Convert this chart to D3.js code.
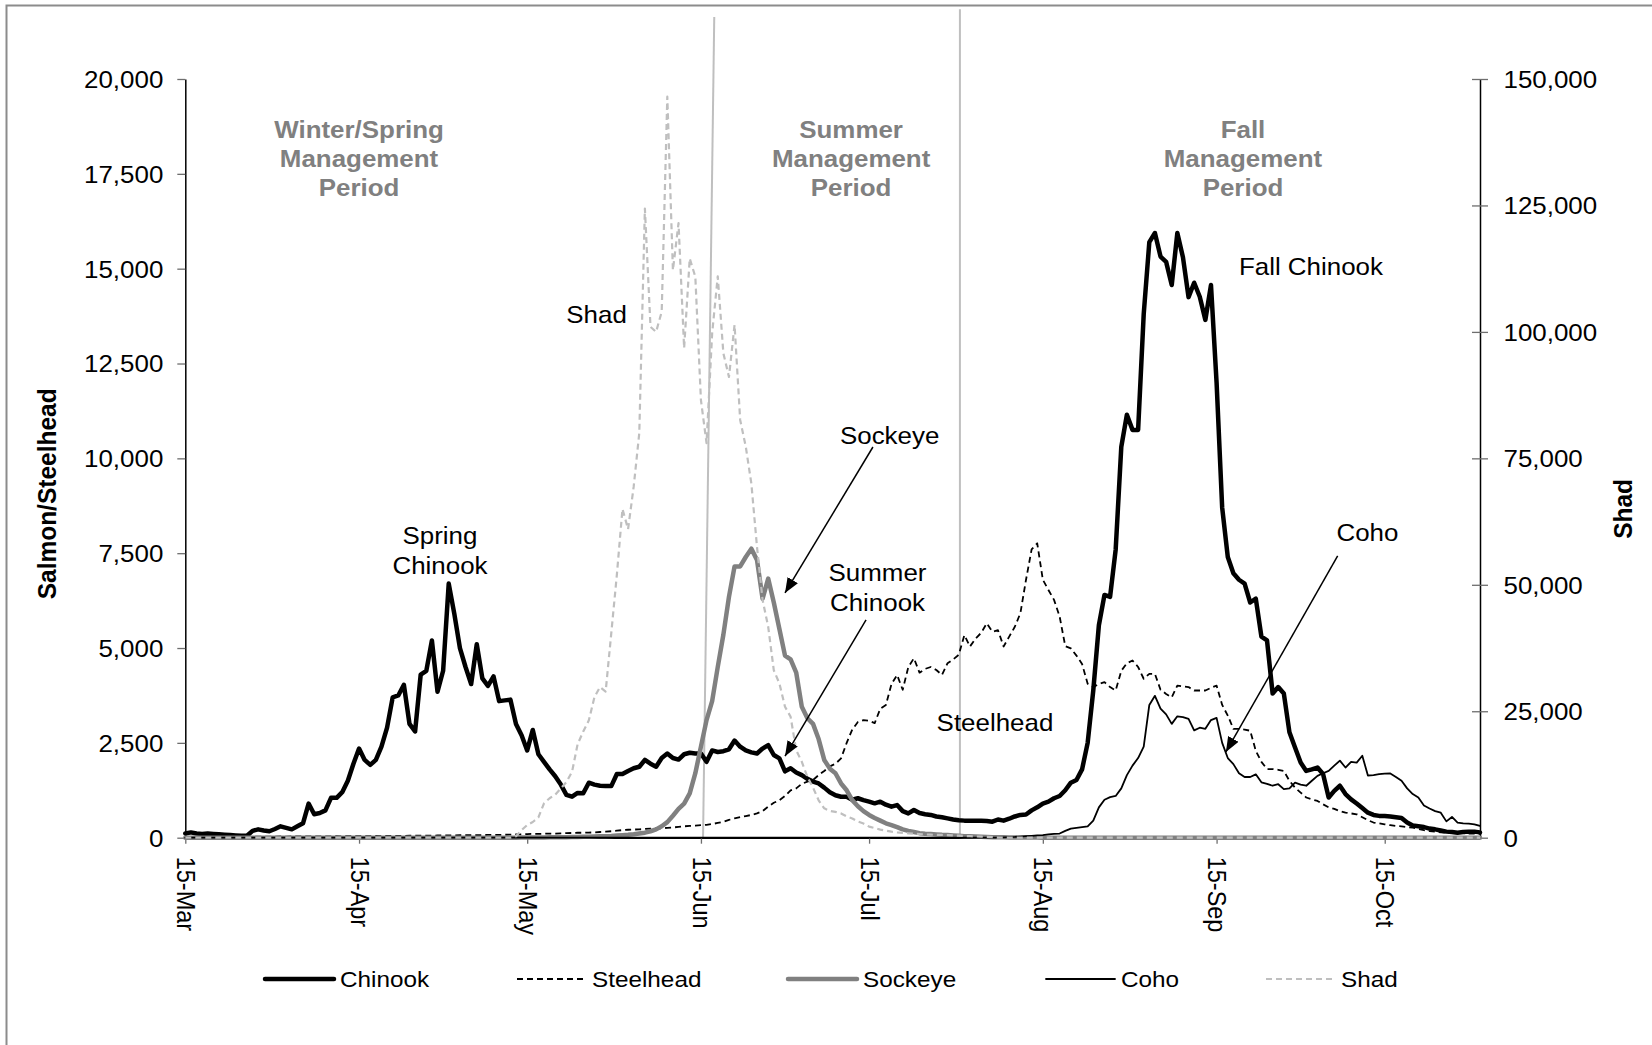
<!DOCTYPE html>
<html><head><meta charset="utf-8">
<script src="https://cdn.jsdelivr.net/npm/d3@7"></script>
<style>
html,body{margin:0;padding:0;background:#fff;}
svg{display:block;}
text{font-family:"Liberation Sans",Arial,sans-serif;}
</style></head><body>
<svg id="chart" width="1652" height="1045"></svg>
<script>
// ---------------- DATA ----------------
const startDate = "2013-03-15";
const endDate = "2013-11-01";

const chinook = [
110,140,110,100,110,100,90,80,70,60,
50,50,180,220,190,170,230,300,260,220,
300,380,900,620,650,720,1050,1050,1200,1500,
1950,2350,2050,1920,2050,2400,2900,3700,3750,4030,
3000,2800,4300,4400,5200,3850,4400,6700,5900,5000,
4500,4050,5100,4200,4000,4250,3600,3620,3640,3000,
2700,2300,2840,2200,2000,1800,1620,1400,1130,1080,
1180,1170,1450,1400,1370,1360,1360,1680,1680,1760,
1830,1870,2050,1950,1870,2100,2220,2100,2060,2200,
2240,2220,2220,2000,2300,2260,2280,2330,2560,2400,
2300,2250,2220,2350,2440,2180,2090,1750,1830,1720,
1650,1550,1480,1430,1320,1200,1120,1080,1080,1000,
1040,990,950,905,950,870,817,860,700,640,
730,650,620,600,560,540,510,480,460,450,
448,448,448,440,422,480,450,500,560,600,
610,720,800,900,950,1040,1100,1250,1450,1520,
1800,2500,3880,5600,6400,6350,7600,10300,11150,10750,
10750,13800,15700,15940,15320,15180,14570,15940,15300,14250,
14630,14260,13650,14570,12000,8700,7400,6970,6800,6700,
6200,6300,5300,5200,3800,3970,3800,2780,2380,1980,
1760,1800,1850,1680,1060,1235,1370,1150,1010,900,
780,660,600,575,573,560,540,520,400,320,
300,280,240,220,190,160,150,132,150,160,
160,140];

const steelhead = [
20,22,20,21,23,22,24,25,24,25,
26,27,26,28,29,28,30,31,30,32,
33,32,34,35,36,35,37,38,37,40,
41,42,41,43,45,44,46,48,47,50,
52,51,54,56,55,58,60,59,62,64,
66,65,68,70,72,74,76,78,82,86,
90,95,100,100,105,110,110,115,120,125,
130,130,135,140,150,160,170,185,200,210,
215,220,230,240,245,250,260,270,285,300,
310,320,330,340,360,390,420,470,510,540,
570,600,640,700,820,920,990,1100,1250,1300,
1420,1480,1520,1650,1760,1880,1950,2090,2500,2850,
3050,3100,3080,3020,3400,3500,4050,4290,3900,4500,
4730,4350,4450,4500,4420,4290,4600,4700,4820,5340,
5040,5250,5400,5650,5430,5470,5040,5300,5560,5920,
6800,7600,7760,6800,6530,6270,5830,5050,4990,4800,
4580,4060,3970,4050,4100,3970,3880,4400,4600,4670,
4500,4190,4320,4320,3900,3790,3700,4010,3990,3970,
3880,3880,3880,3950,4010,3500,3220,2870,2870,2850,
2820,2290,2000,1810,1810,1790,1760,1500,1320,1190,
1060,1010,970,880,800,760,700,660,640,617,
540,460,400,380,353,330,310,300,280,265,
230,200,176,160,140,132,132,132,120,110,
106,100];

const sockeye = [
0,0,0,0,0,0,0,0,0,0,0,0,0,0,0,0,0,0,0,0,
0,0,0,0,0,0,0,0,0,0,0,0,0,0,0,0,0,0,0,0,
0,0,0,0,0,0,0,0,0,0,0,0,0,0,0,0,0,0,0,0,
5,5,6,7,8,9,10,12,14,16,18,22,
26,30,35,40,45,55,65,75,
90,110,132,170,220,300,410,580,760,900,
1170,1700,2400,3100,3600,4500,5350,6350,7150,7150,
7400,7620,7320,6300,6830,6200,5500,4800,4700,4350,
3450,3150,3000,2600,2050,1820,1700,1430,1250,990,
830,700,600,520,450,380,334,280,220,180,
150,120,105,95,85,75,70,60,50,40,
35,30,26,20,15,12,10,8,6,5,
4,3,2,1,
0,0,0,0,0,0,0,0,0,0,0,0,0,0,0,0,0,0,0,0,
0,0,0,0,0,0,0,0,0,0,0,0,0,0,0,0,0,0,0,0,
0,0,0,0,0,0,0,0,0,0,0,0,0,0,0,0,0,0,0,0,
0,0,0,0,0,0,0,0,0,0,0,0,0,0,0,0,0,0];

const coho = [
0,0,0,0,0,0,0,0,0,0,0,0,0,0,0,0,0,0,0,0,
0,0,0,0,0,0,0,0,0,0,0,0,0,0,0,0,0,0,0,0,
0,0,0,0,0,0,0,0,0,0,0,0,0,0,0,0,0,0,0,0,
0,0,0,0,0,0,0,0,0,0,0,0,0,0,0,0,0,0,0,0,
0,0,0,0,0,0,0,0,0,0,0,0,0,0,0,0,0,0,0,0,
0,0,0,0,0,0,0,0,0,0,0,0,0,0,0,0,0,0,0,0,
0,0,0,0,0,0,0,0,0,0,0,0,0,0,0,0,0,0,0,0,
0,0,0,0,0,0,
10,15,20,30,40,50,60,70,85,100,
110,180,240,260,280,300,450,800,1000,1070,
1100,1300,1650,1900,2100,2400,3500,3740,3400,3250,
3000,3200,3180,3130,2830,2900,2870,3100,3160,2500,
2100,1940,1700,1600,1600,1670,1460,1420,1370,1410,
1280,1300,1450,1400,1370,1500,1630,1700,1760,1900,
2030,1850,2000,1980,2160,1640,1650,1675,1690,1693,
1600,1500,1300,1150,1060,850,770,700,660,430,
547,400,380,370,353,309];

const shad = [
0,0,0,0,0,0,0,0,0,0,0,0,0,0,0,0,0,0,0,0,
0,0,0,0,0,0,0,0,0,0,0,0,0,0,0,0,0,0,0,0,
0,0,0,0,0,0,0,0,0,0,0,0,0,0,0,0,0,0,0,
300,1500,2500,3100,4000,6800,7800,8500,9750,11000,13000,
18500,21000,23200,27800,29800,28900,40400,52000,65000,61000,
69400,80000,124400,101000,100000,104000,146500,112200,121500,96800,
114500,110900,86500,78000,99700,111000,95800,91100,101400,82600,
77300,70000,57500,47000,41700,33100,30500,25900,23900,17300,
15000,12000,9900,7400,5800,5300,5100,4800,4200,3800,
3200,2800,2200,1900,1600,1400,1200,1050,950,870,
800,720,650,600,560,540,520,450,400,350,
300,250,200,150,100,
0,0,0,0,0,0,0,0,0,0,0,0,0,0,0,0,0,0,0,0,
0,0,0,0,0,0,0,0,0,0,0,0,0,0,0,0,0,0,0,0,
0,0,0,0,0,0,0,0,0,0,0,0,0,0,0,0,0,0,0,0,
0,0,0,0,0,0,0,0,0,0,0,0,0,0,0,0,0,0,0,0,
0,0,0,0,0,0,0];

const seriesNames = ["Chinook","Steelhead","Sockeye","Coho","Shad"];
const xTickDates = ["2013-03-15","2013-04-15","2013-05-15","2013-06-15","2013-07-15","2013-08-15","2013-09-15","2013-10-15"];
const xTickLabels = ["15-Mar","15-Apr","15-May","15-Jun","15-Jul","15-Aug","15-Sep","15-Oct"];
const leftTicks = [0,2500,5000,7500,10000,12500,15000,17500,20000];
const rightTicks = [0,25000,50000,75000,100000,125000,150000];
const leftTitle = "Salmon/Steelhead";
const rightTitle = "Shad";

const periodTitles = [
  {lines:["Winter/Spring","Management","Period"], date:"2013-04-15T00:00", value:18656},
  {lines:["Summer","Management","Period"], date:"2013-07-11T19:00", value:18656},
  {lines:["Fall","Management","Period"], date:"2013-09-19T17:00", value:18656}
];
const periodLines = [
  {top:"2013-06-17T09:00", bottom:"2013-06-15T09:00", topValue:21634},
  {top:"2013-07-31T05:00", bottom:"2013-07-31T05:00", topValue:21837}
];
const seriesLabels = [
  {lines:["Shad"], date:"2013-05-27T09:00", value:13800},
  {lines:["Spring","Chinook"], date:"2013-04-29T10:30", value:7953},
  {lines:["Sockeye"], date:"2013-07-18T16:00", value:10597},
  {lines:["Summer","Chinook"], date:"2013-07-16T12:00", value:6978},
  {lines:["Steelhead"], date:"2013-08-06T11:00", value:3024},
  {lines:["Fall Chinook"], date:"2013-10-01T20:00", value:15044},
  {lines:["Coho"], date:"2013-10-11T22:00", value:8032}
];
const arrows = [
  {from:"2013-07-15T16:30", fromValue:10299, to:"2013-06-30T00:00", toValue:6451},
  {from:"2013-07-14T11:00", fromValue:5739, to:"2013-06-30T00:00", toValue:2150},
  {from:"2013-10-06T14:30", fromValue:7426, to:"2013-09-16T16:00", toValue:2260}
];

// ---------------- LAYOUT / STYLE ----------------
const SX = 1.08;
const plot = {left:185.3, right:1480, top:79, bottom:837.7};
const FONT = '"Liberation Sans", Arial, sans-serif';
const styles = {
  Chinook:   {stroke:"#000000", width:4.5, dash:null, cap:"round"},
  Steelhead: {stroke:"#000000", width:1.8, dash:"6,4", cap:"butt"},
  Sockeye:   {stroke:"#808080", width:4.5, dash:null, cap:"round"},
  Coho:      {stroke:"#000000", width:1.8, dash:null, cap:"round"},
  Shad:      {stroke:"#bfbfbf", width:2.2, dash:"6,4", cap:"butt"}
};
const legendX = [265, 517, 788, 1046, 1266];
const legendY = 979;

const utcA = d3.utcParse("%Y-%m-%dT%H:%M"), utcB = d3.utcParse("%Y-%m-%d");
const parse = s => s.length > 10 ? utcA(s) : utcB(s);

const x = d3.scaleUtc().domain([parse(startDate), parse(endDate)]).range([plot.left, plot.right]);
const yL = d3.scaleLinear().domain([0, 20000]).range([plot.bottom, plot.top]);
const yR = d3.scaleLinear().domain([0, 150000]).range([plot.bottom, plot.top]);

const seriesValues = {Chinook:chinook, Steelhead:steelhead, Sockeye:sockeye, Coho:coho, Shad:shad};
const seriesAxis = {Chinook:yL, Steelhead:yL, Sockeye:yL, Coho:yL, Shad:yR};

const svg = d3.select("#chart");

// outer frame
svg.append("rect").attr("x",6.5).attr("y",5.5).attr("width",1700).attr("height",1100)
  .attr("fill","#fff").attr("stroke","#8c8c8c").attr("stroke-width",2);

// period divider lines
svg.append("g").selectAll("line").data(periodLines).join("line")
  .attr("x1", d => x(parse(d.top))).attr("y1", d => yL(d.topValue))
  .attr("x2", d => x(parse(d.bottom))).attr("y2", yL(0))
  .attr("stroke","#bfbfbf").attr("stroke-width",2);

// axes
const gL = svg.append("g").attr("transform",`translate(${plot.left},0)`)
  .call(d3.axisLeft(yL).tickValues(leftTicks).tickFormat(d3.format(",")).tickSize(8).tickSizeOuter(0));
gL.attr("font-size",null).attr("font-family",null);
gL.select(".domain").attr("stroke","#000").attr("stroke-width",1.5);
gL.selectAll(".tick line").attr("stroke","#6e6e6e").attr("stroke-width",1.3);
gL.selectAll(".tick text").attr("x",0).attr("dy","0.35em")
  .attr("transform",`translate(-22,0) scale(${SX},1)`).attr("text-anchor","end")
  .style("font-size","24px").style("font-family",FONT).attr("fill","#000");

const gR = svg.append("g").attr("transform",`translate(${plot.right},0)`)
  .call(d3.axisRight(yR).tickValues(rightTicks).tickFormat(d3.format(",")).tickSize(8).tickSizeOuter(0));
gR.attr("font-size",null).attr("font-family",null);
gR.select(".domain").attr("stroke","#000").attr("stroke-width",1.5);
gR.selectAll(".tick line").attr("x1",-8).attr("x2",8).attr("stroke","#6e6e6e").attr("stroke-width",1.3);
gR.selectAll(".tick text").attr("x",0).attr("dy","0.35em")
  .attr("transform",`translate(23.5,0) scale(${SX},1)`).attr("text-anchor","start")
  .style("font-size","24px").style("font-family",FONT).attr("fill","#000");

const gX = svg.append("g").attr("transform",`translate(0,${plot.bottom})`)
  .call(d3.axisBottom(x).tickValues(xTickDates.map(parse)).tickFormat((d,i) => xTickLabels[i]).tickSize(6).tickSizeOuter(0));
gX.attr("font-size",null).attr("font-family",null);
gX.select(".domain").attr("stroke","#000").attr("stroke-width",1.5);
gX.selectAll(".tick line").attr("stroke","#6e6e6e").attr("stroke-width",1.3);
gX.selectAll(".tick text").attr("y",0).attr("x",0).attr("dy","0.35em")
  .attr("transform",`translate(0,19) scale(${SX},1) rotate(90)`).attr("text-anchor","start")
  .style("font-size","23.5px").style("font-family",FONT).attr("fill","#000");

// axis titles
function stretchedText(parent, str, px, py, opt) {
  return parent.append("text")
    .attr("transform",`translate(${px},${py}) scale(${SX},1)` + (opt.rotate ? ` rotate(${opt.rotate})` : ""))
    .attr("text-anchor", opt.anchor || "middle").attr("dy","0.35em")
    .style("font-size", (opt.size || 24) + "px").style("font-family", FONT)
    .style("font-weight", opt.bold ? "bold" : "normal")
    .attr("fill", opt.fill || "#000").text(str);
}
stretchedText(svg, leftTitle, 47, (plot.top + plot.bottom)/2 + 35.5, {rotate:-90, bold:true, size:24.5});
stretchedText(svg, rightTitle, 1622.5, (plot.top + plot.bottom)/2 + 50.5, {rotate:-90, bold:true, size:24.5});

// series
const line = yScale => d3.line().x(d => x(d.date)).y(d => yScale(d.v));
const gS = svg.append("g");
seriesNames.forEach(name => {
  const vals = seriesValues[name];
  const pts = vals.map((v,i) => ({date: d3.utcDay.offset(parse(startDate), i), v}));
  const st = styles[name];
  gS.append("path").datum(pts).attr("d", line(seriesAxis[name]))
    .attr("fill","none").attr("stroke",st.stroke).attr("stroke-width",st.width)
    .attr("stroke-dasharray",st.dash).attr("stroke-linejoin","round").attr("stroke-linecap",st.cap);
});

// period titles
periodTitles.forEach(p => {
  const t = svg.append("text")
    .attr("transform",`translate(${x(parse(p.date))},${yL(p.value)}) scale(${SX},1)`)
    .attr("text-anchor","middle").style("font-size","24px").style("font-weight","bold")
    .style("font-family",FONT).attr("fill","#808080");
  p.lines.forEach((ln,i) => t.append("tspan").attr("x",0).attr("dy", i === 0 ? "0.35em" : "1.19em").text(ln));
});

// series labels
seriesLabels.forEach(p => {
  const t = svg.append("text")
    .attr("transform",`translate(${x(parse(p.date))},${yL(p.value)}) scale(${SX},1)`)
    .attr("text-anchor","middle").style("font-size","24px").style("font-family",FONT).attr("fill","#000");
  p.lines.forEach((ln,i) => t.append("tspan").attr("x",0).attr("dy", i === 0 ? "0.35em" : "1.22em").text(ln));
});

// arrows
const defs = svg.append("defs");
defs.append("marker").attr("id","arrowhead").attr("viewBox","0 0 10 10")
  .attr("refX",10).attr("refY",5).attr("markerUnits","userSpaceOnUse")
  .attr("markerWidth",15).attr("markerHeight",12).attr("orient","auto")
  .attr("preserveAspectRatio","none")
  .append("path").attr("d","M0,0L10,5L0,10Z").attr("fill","#000");
svg.append("g").selectAll("line").data(arrows).join("line")
  .attr("x1", d => x(parse(d.from))).attr("y1", d => yL(d.fromValue))
  .attr("x2", d => x(parse(d.to))).attr("y2", d => yL(d.toValue))
  .attr("stroke","#000").attr("stroke-width",1.5).attr("marker-end","url(#arrowhead)");

// legend
const gLeg = svg.append("g");
seriesNames.forEach((name,i) => {
  const st = styles[name];
  gLeg.append("line").attr("x1",legendX[i]).attr("x2",legendX[i] + 69)
    .attr("y1",legendY).attr("y2",legendY)
    .attr("stroke",st.stroke).attr("stroke-width",st.width)
    .attr("stroke-dasharray",st.dash).attr("stroke-linecap",st.cap);
  gLeg.append("text").attr("transform",`translate(${legendX[i] + 75},${legendY}) scale(${SX},1)`)
    .attr("dy","0.35em").style("font-size","22.5px").style("font-family",FONT).attr("fill","#000").text(name);
});
</script>
</body></html>
